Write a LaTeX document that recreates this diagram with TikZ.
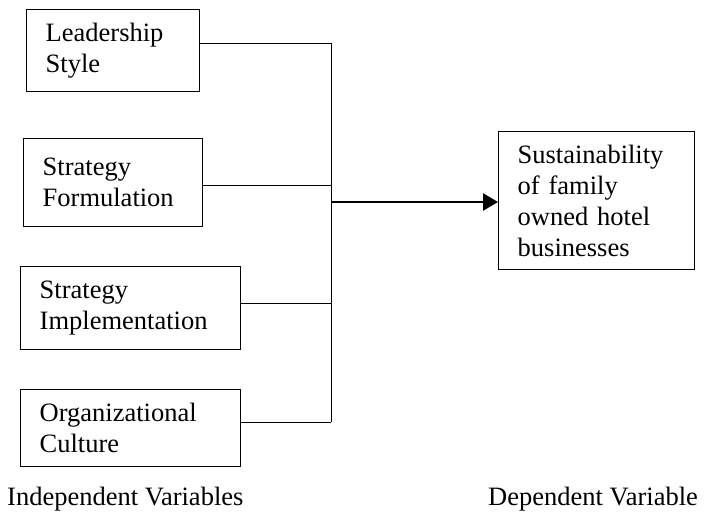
\documentclass[tikz,border=0pt]{standalone}
\usepackage{fontspec}
\setmainfont{Liberation Serif}
\usetikzlibrary{arrows.meta}

\begin{document}
\begin{tikzpicture}[x=1pt,y=-1pt,
        font=\fontsize{26.5}{31}\selectfont,
        varbox/.style={draw,line width=1.4pt,anchor=north west,align=left,inner xsep=19pt,inner ysep=0pt},
        link/.style={line width=1pt},
        flow/.style={line width=2.6pt,-{Triangle[length=15pt,width=17pt]}}]
        \useasboundingbox (0,0) rectangle (704,512);

        % Independent variables
        \node[varbox,text width=135pt,minimum height=82pt] (lead) at (26,9) {Leadership\\Style};
        \node[varbox,text width=141pt,minimum height=88pt] (form) at (23,138) {Strategy\\Formulation};
        \node[varbox,text width=182pt,minimum height=83pt] (impl) at (20,266) {Strategy\\Implementation};
        \node[varbox,text width=182pt,minimum height=77pt] (cult) at (20,389) {Organizational\\Culture};

        % Dependent variable
        \node[varbox,text width=158pt,minimum height=138pt] (hotel) at (498,131) {Sustainability\\of family\\owned hotel\\businesses};

        % Bus
        \coordinate (j1) at (331,43);
        \coordinate (j2) at (331,185);
        \coordinate (j3) at (331,303);
        \coordinate (j4) at (331,422);
        \coordinate (jo) at (331,202);

        \draw[link] (lead.east |- j1) -- (j1);
        \draw[link] (form.east |- j2) -- (j2);
        \draw[link] (impl.east |- j3) -- (j3);
        \draw[link] (cult.east |- j4) -- (j4);
        \draw[link] (j1) -- (j4);

        \draw[flow] (jo) -- (hotel.west |- jo);

        % Captions
        \node[anchor=base west,inner sep=0pt] (indep) at (7,505) {Independent Variables};
        \node[anchor=base west,inner sep=0pt] (dep) at (488,505) {Dependent Variable};
\end{tikzpicture}
\end{document}
